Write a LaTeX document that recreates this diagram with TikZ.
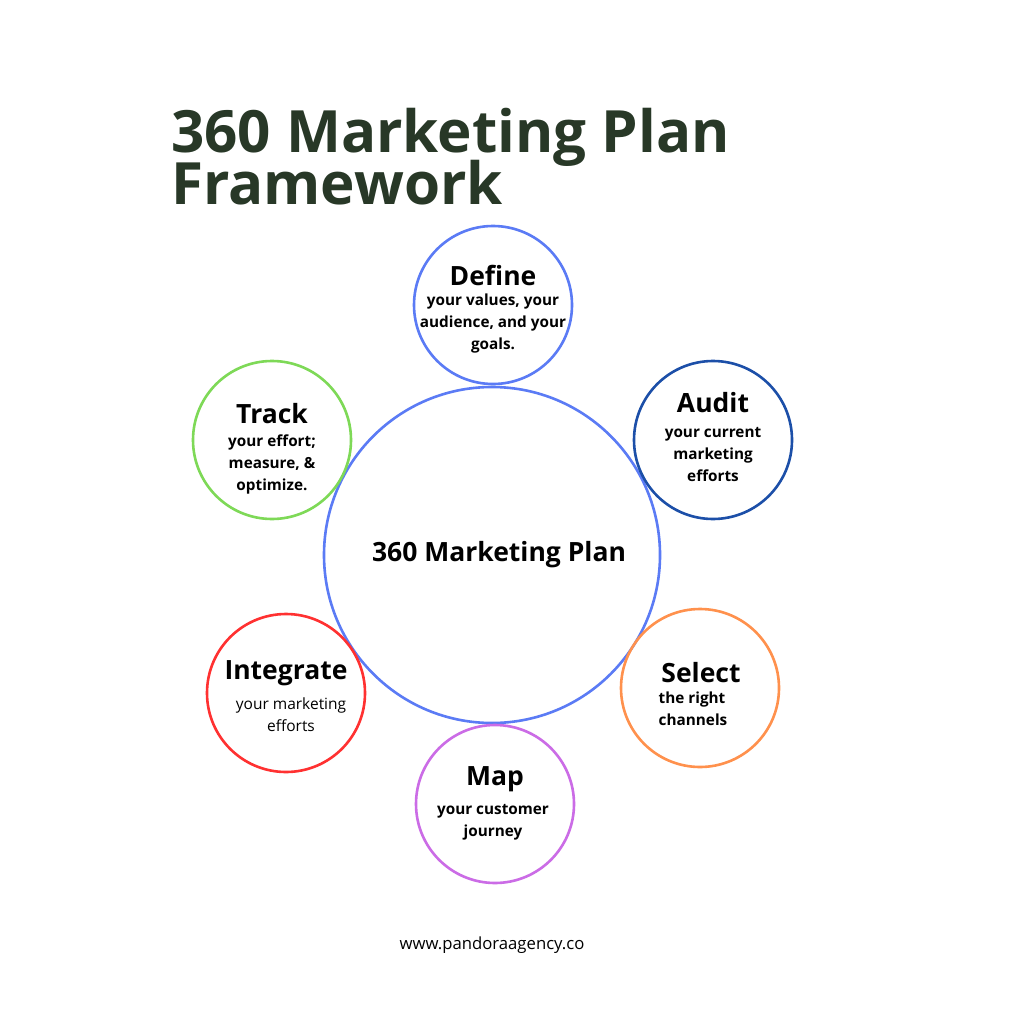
\documentclass[tikz,border=0pt]{standalone}
\usepackage{fontspec}
\setmainfont{Open Sans}
\definecolor{titlecol}{HTML}{283827}
\definecolor{mainblue}{HTML}{5B7BF5}
\definecolor{darkblue}{HTML}{1C4FA8}
\definecolor{grn}{HTML}{7ED957}
\definecolor{redc}{HTML}{FF3131}
\definecolor{orng}{HTML}{FF914D}
\definecolor{purp}{HTML}{CB6CE6}
\begin{document}
\begin{tikzpicture}[x=1pt,y=-1pt,
  ring/.style={circle,draw,line width=2.6pt,inner sep=0pt,minimum size=158pt},
  head/.style={font=\fontsize{26.5}{30}\selectfont\bfseries,inner sep=0pt},
  body/.style={font=\fontsize{15.3}{22}\selectfont\bfseries,align=center,inner sep=0pt},
  bodyr/.style={font=\fontsize{15.5}{22}\selectfont,align=center,inner sep=0pt},
  ttl/.style={anchor=base west,inner sep=0pt,text=titlecol,font=\fontsize{58.3}{60}\selectfont\bfseries}]
\useasboundingbox[fill=white] (0,0) rectangle (1024,1024);
% title
\node[ttl] (title1) at (171,153) {360 Marketing Plan};
\node[ttl] (title2) at (171,205) {Framework};
% main circle
\node[circle,draw=mainblue,line width=2.6pt,minimum size=336pt,inner sep=0pt] (main) at (492,555) {};
\node[font=\fontsize{26.5}{30}\selectfont\bfseries,inner sep=0pt] (maintxt) at (499,555) {360 Marketing Plan};
% satellites
\node[ring,draw=mainblue] (define) at (493,305) {};
\node[ring,draw=darkblue] (audit) at (713,440) {};
\node[ring,draw=grn] (track) at (272,440) {};
\node[ring,draw=redc] (integ) at (286,693) {};
\node[ring,draw=orng] (select) at (700,688) {};
\node[ring,draw=purp] (map) at (495,804) {};
% texts
\node[head] (defineh) at (493,275) {Define};
\node[body] (defineb) at (493,324) {your values, your\\audience, and your\\goals.};
\node[head] (audith) at (713,403) {Audit};
\node[body] (auditb) at (713,455) {your current\\marketing\\efforts};
\node[head] (trackh) at (272,414) {Track};
\node[body] (trackb) at (272,464) {your effort;\\measure, \&\\optimize.};
\node[head] (integh) at (286,673) {Integrate};
\node[bodyr] (integb) at (291,715) {your marketing\\efforts};
\node[head] (selecth) at (701,673) {Select};
\node[body,align=left] (selectb) at (693,709) {the right\\channels};
\node[head] (maph) at (495,779) {Map};
\node[body] (mapb) at (493,822) {your customer\\journey};
% footer
\node[font=\fontsize{16.7}{20}\selectfont,inner sep=0pt] (url) at (492,945) {www.pandoraagency.co};
\end{tikzpicture}
\end{document}
